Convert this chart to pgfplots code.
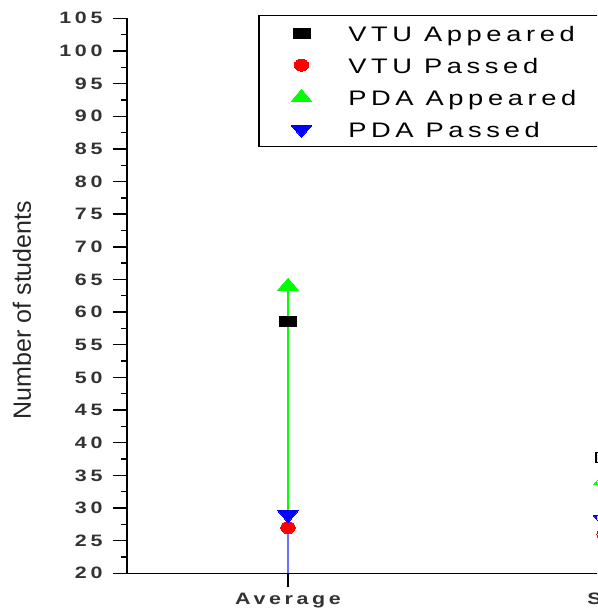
\documentclass[border=0pt]{standalone}
\usepackage{pgfplots}
\pgfplotsset{compat=1.18}
\usepackage{fontspec}
\setmainfont{Liberation Sans}
\newfontfamily\wide[LetterSpace=22,FakeStretch=1.3]{Liberation Sans}
\definecolor{mgreen}{RGB}{0,255,0}
\definecolor{mblue}{RGB}{0,0,255}
\definecolor{lblue}{RGB}{110,110,255}
\definecolor{mred}{RGB}{255,0,0}
\begin{document}
\begin{tikzpicture}
\useasboundingbox (0,0) rectangle (597pt,615pt);
\clip (0,0) rectangle (597pt,615pt);
\begin{axis}[
  at={(127pt,41.7pt)}, anchor=south west,
  scale only axis, width=603.4pt, height=555pt,
  xmin=-0.5095, xmax=1.4, ymin=20, ymax=105,
  axis x line=bottom, axis y line=left,
  axis line style={-, line width=1.6pt, black},
  xtick={0,1}, xticklabels={Average, SD},
  ytick={20,25,...,105},
  minor y tick num=1,
  tick align=outside,
  major tick length=14pt, minor tick length=6pt,
  tick style={line width=1.4pt, black},
  /pgf/number format/assume math mode=true,
  ticklabel style={font=\wide\bfseries\fontsize{16.5}{18}\selectfont, text=black!80},
  yticklabel style={xshift=-7pt},
  xticklabel style={yshift=-2pt},
  ylabel={Number of students},
  ylabel style={font=\fontsize{25}{28}\selectfont, text=black!85, at={(axis description cs:-0.174,0.4744)}, anchor=center},
  clip mode=individual,
  legend style={at={(axis description cs:0.2171,1.006)}, anchor=north west, draw=black, line width=1.5pt, inner xsep=0pt, inner ysep=4pt, row sep=5pt, column sep=0pt, font=\wide\fontsize{21}{24}\selectfont, nodes={inner sep=0pt, text height=22pt, text depth=5pt, text width=280pt, align=left}},
  legend cell align=left,
  legend image code/.code={\path (-42pt,0pt) (46pt,0pt); \draw[#1, line width=0pt] plot coordinates {(0pt,0pt)};},
]
\addplot[ycomb, draw=mgreen, line width=1.6pt, no marks, forget plot] coordinates {(0,64) (1,34.2)};
\addplot[ycomb, draw=lblue, line width=1.6pt, no marks, forget plot] coordinates {(0,29) (1,28.2)};
\addplot[only marks, mark=square*, mark size=5pt, mark options={xscale=1.7, fill=black, draw=black, line width=0pt}] coordinates {(0,58.5) (1,37.8)};
\addlegendentry{VTU\hspace{12pt}Appeared}
\addplot[only marks, mark=*, mark size=6pt, mark options={xscale=1.2, fill=mred, draw=mred, line width=0pt}] coordinates {(0,27) (1,26)};
\addlegendentry{VTU\hspace{12pt}Passed}
\addplot[only marks, mark=triangle*, mark size=8pt, mark options={xscale=1.5, fill=mgreen, draw=mgreen, line width=0pt}] coordinates {(0,64) (1,34.2)};
\addlegendentry{PDA\hspace{12pt}Appeared}
\addplot[only marks, mark=triangle*, mark size=8pt, mark options={rotate=180, xscale=1.5, fill=mblue, draw=mblue, line width=0pt}] coordinates {(0,29) (1,28.2)};
\addlegendentry{PDA\hspace{12pt}Passed}
\end{axis}
\end{tikzpicture}
\end{document}
